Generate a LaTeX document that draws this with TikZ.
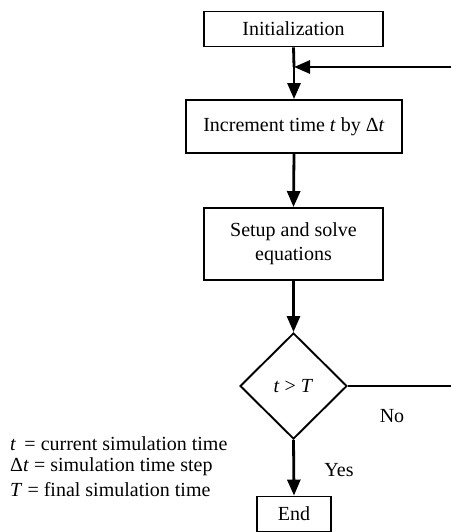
\documentclass[tikz,border=0pt]{standalone}
\usepackage{fontspec}
\setmainfont{Liberation Serif}
\usetikzlibrary{shapes.geometric,arrows.meta}
\begin{document}
\begin{tikzpicture}[x=1pt,y=-1pt,
  every node/.style={font=\fontsize{20}{24}\selectfont},
  box/.style={draw,line width=1.9pt,inner sep=0pt,align=center},
  dec/.style={draw,diamond,line width=1.9pt,inner sep=0pt},
  conn/.style={line width=2.8pt},
  arr/.style={conn,-{Triangle[length=16pt,width=13pt]}},
  lbl/.style={inner sep=0pt}]
\useasboundingbox (0,0) rectangle (451,532);
\node[box,minimum width=179pt,minimum height=35pt] (init) at (293.5,29) {Initialization};
\node[box,minimum width=216pt,minimum height=53pt] (inc) at (294,126.5) {Increment time \textit{t} by Δ\textit{t}};
\node[box,minimum width=179pt,minimum height=72pt] (setup) at (293.5,244) {Setup and solve\\equations};
\node[dec,minimum width=107pt,minimum height=106pt] (cmp) at (293.5,386) {\textit{t} {>} \textit{T}};
\node[box,minimum width=74pt,minimum height=35pt] (end) at (294,514) {End};
\coordinate (j) at (294,67);
\coordinate (r1) at (451,67);
\coordinate (r2) at (451,386);
\draw[conn] (init.south) -- (j);
\draw[arr] (j) -- (inc.north);
\draw[arr] (r1) -- (j);
\draw[arr] (inc.south) -- (setup.north);
\draw[arr] (setup.south) -- (cmp.north);
\draw[conn] (cmp.east) -- (r2);
\draw[arr] (cmp.south) -- (end.north);
\node[lbl] (no) at (392,416) {No};
\node[lbl] (yes) at (339,470) {Yes};
\node[lbl,anchor=west] (l1) at (10,444) {\textit{t}\, = current simulation time};
\node[lbl,anchor=west] (l2) at (10,467) {Δ\textit{t} = simulation time step};
\node[lbl,anchor=west] (l3) at (10,490) {\textit{T} = final simulation time};
\end{tikzpicture}
\end{document}
